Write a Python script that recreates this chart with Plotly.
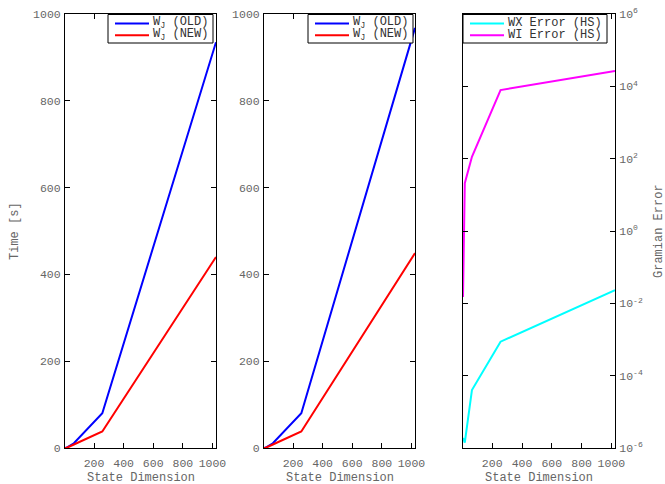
import plotly.graph_objects as go

# ---- data ----
dims = [4, 16, 64, 256, 1024]
p1_old = [0.1, 1, 11, 80, 935]
p1_new = [0.1, 0.5, 8, 38, 440]
p2_old = [0.1, 1, 11, 80, 968]
p2_new = [0.1, 0.5, 8, 38, 449]
wx_err = [1.9e-6, 1.4e-6, 4e-5, 8.7e-4, 0.023]
wi_err = [0.015, 21, 113, 7900, 26600]
x_ticks = [200, 400, 600, 800, 1000]
y_ticks = [0, 200, 400, 600, 800, 1000]
log_ticks = [1e-6, 1e-4, 1e-2, 1e0, 1e2, 1e4, 1e6]
log_labels = ["10<sup>-6</sup>", "10<sup>-4</sup>", "10<sup>-2</sup>", "10<sup>0</sup>",
              "10<sup>2</sup>", "10<sup>4</sup>", "10<sup>6</sup>"]
leg1_names = ["W<sub>J</sub> (OLD)", "W<sub>J</sub> (NEW)"]
leg3_names = ["WX Error (HS)", "WI Error (HS)"]

FONT = "Liberation Mono, Courier New, monospace"
GRAY = "#666666"
W, H = 665, 484
BLUE, RED, CYAN, MAG = "#0000ff", "#ff0000", "#00ffff", "#ff00ff"

fig = go.Figure()
series = [
    (p1_old, BLUE, leg1_names[0], "x", "y"),
    (p1_new, RED, leg1_names[1], "x", "y"),
    (p2_old, BLUE, leg1_names[0], "x2", "y2"),
    (p2_new, RED, leg1_names[1], "x2", "y2"),
    (wx_err, CYAN, leg3_names[0], "x3", "y3"),
    (wi_err, MAG, leg3_names[1], "x3", "y3"),
]
for vals, col, name, xa, ya in series:
    fig.add_trace(go.Scatter(x=dims, y=vals, mode="lines", name=name, showlegend=False,
                             line=dict(color=col, width=2), xaxis=xa, yaxis=ya))


def px(x):
    return x / W


def py(y):
    return 1 - y / H


doms = [(65, 216), (264, 415), (463, 615)]
ydom = [py(448), py(14)]

tickfont = dict(family=FONT, size=11.5, color=GRAY)
common_x = dict(range=[4, 1024], tickvals=x_ticks, ticks="inside", ticklen=5,
                showline=True, linecolor="black", linewidth=1, mirror="ticks",
                showgrid=False, zeroline=False, automargin=False,
                tickfont=tickfont, tickcolor="black", ticklabelstandoff=4)
common_y = dict(ticks="inside", ticklen=5, showline=True, linecolor="black", linewidth=1,
                mirror="ticks", showgrid=False, zeroline=False, automargin=False,
                tickfont=tickfont, tickcolor="black", ticklabelstandoff=1)

fig.update_layout(
    width=W, height=H, margin=dict(l=0, r=0, t=0, b=0),
    paper_bgcolor="white", plot_bgcolor="white", showlegend=False,
    xaxis=dict(domain=[px(doms[0][0]), px(doms[0][1])], anchor="y", **common_x),
    xaxis2=dict(domain=[px(doms[1][0]), px(doms[1][1])], anchor="y2", **common_x),
    xaxis3=dict(domain=[px(doms[2][0]), px(doms[2][1])], anchor="y3", **common_x),
    yaxis=dict(domain=ydom, anchor="x", range=[0, 1000], tickvals=y_ticks, **common_y),
    yaxis2=dict(domain=ydom, anchor="x2", range=[0, 1000], tickvals=y_ticks, **common_y),
    yaxis3=dict(domain=ydom, anchor="x3", type="log", range=[-6, 6], side="right",
                tickvals=log_ticks, ticktext=log_labels, **common_y),
)

# ---- legends (boxed, compact) ----
leg_font = dict(family=FONT, size=12, color="#333333")
legends = [
    (108, 213, [(BLUE, leg1_names[0]), (RED, leg1_names[1])]),
    (308, 413, [(BLUE, leg1_names[0]), (RED, leg1_names[1])]),
    (463, 607, [(CYAN, leg3_names[0]), (MAG, leg3_names[1])]),
]
for (x0, x1, items) in legends:
    fig.add_shape(type="rect", xref="paper", yref="paper", x0=px(x0), x1=px(x1),
                  y0=py(43), y1=py(14.5), line=dict(color="black", width=1),
                  fillcolor="white", layer="above")
    for i, (col, name) in enumerate(items):
        yy = 23.5 + i * 11.7
        fig.add_shape(type="line", xref="paper", yref="paper", x0=px(x0 + 7), x1=px(x0 + 41),
                      y0=py(yy), y1=py(yy), line=dict(color=col, width=2), layer="above")
        fig.add_annotation(text=name, x=px(x0 + 43), y=py(yy), xref="paper", yref="paper",
                           showarrow=False, font=leg_font, xanchor="left", yanchor="middle")

ann_font = dict(family=FONT, size=12, color=GRAY)
for (a, b) in doms:
    fig.add_annotation(text="State Dimension", x=px((a + b) / 2), y=py(478), xref="paper", yref="paper",
                       showarrow=False, font=ann_font, xanchor="center", yanchor="middle")
fig.add_annotation(text="Time [s]", x=px(15), y=py(231), xref="paper", yref="paper",
                   showarrow=False, font=ann_font, textangle=-90, xanchor="center", yanchor="middle")
fig.add_annotation(text="Gramian Error", x=px(659), y=py(231), xref="paper", yref="paper",
                   showarrow=False, font=ann_font, textangle=-90, xanchor="center", yanchor="middle")

fig.write_html("out.html", config={"displayModeBar": False},
               post_script="document.body.style.margin='0';")
